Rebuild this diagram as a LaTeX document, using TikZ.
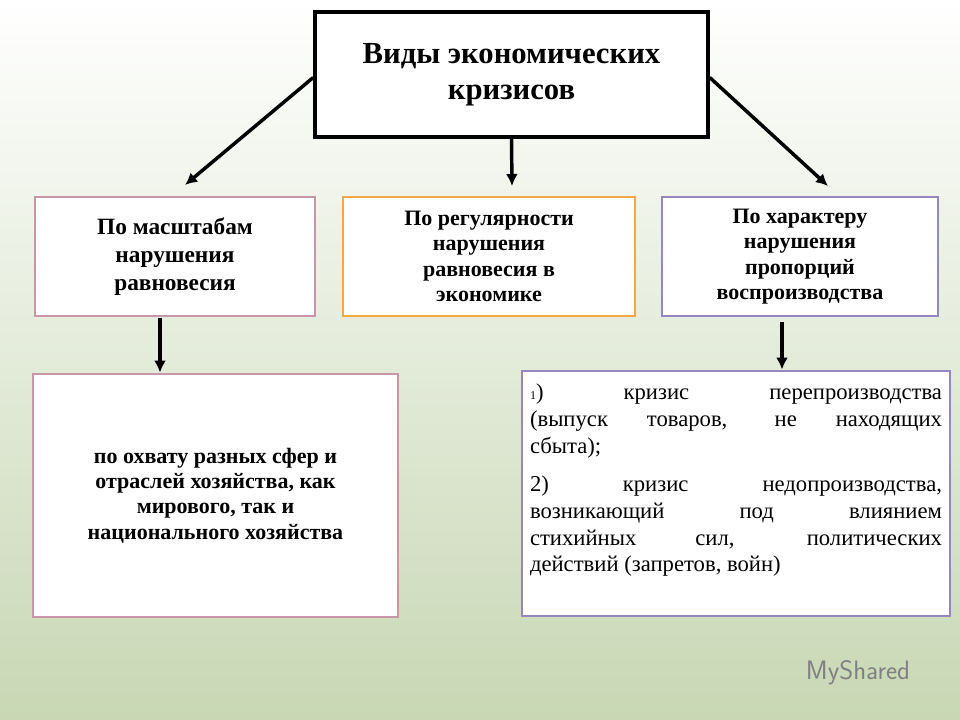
\documentclass[tikz,border=0pt]{standalone}
\usepackage{fontspec}
\setmainfont{Liberation Serif}
\usetikzlibrary{arrows.meta}
\begin{document}
\begin{tikzpicture}[x=0.75pt,y=-0.75pt,
 box/.style={draw,line width=2.2pt,fill=white,align=center,font=\bfseries\fontsize{16.5}{19}\selectfont,inner sep=2pt},
 arr/.style={line width=2.6pt,-{Latex[length=9pt,width=9pt]}}]
\shade[top color=white,bottom color={rgb,255:red,200;green,215;blue,180}] (0,0) rectangle (960,720);
\useasboundingbox (0,0) rectangle (960,720);
\definecolor{pk}{RGB}{200,150,170}\definecolor{og}{RGB}{240,168,72}\definecolor{pu}{RGB}{150,135,190}
\node[box,draw=black,line width=2.6pt,minimum width=393*0.75pt,minimum height=125*0.75pt,font=\bfseries\fontsize{23}{27}\selectfont] (top) at (511.5,74.5) {Виды экономических\\кризисов};
\node[box,draw=pk,minimum width=280*0.75pt,minimum height=119*0.75pt,font=\bfseries\fontsize{17.5}{21}\selectfont] (l) at (175,256.5) {По масштабам\\нарушения\\равновесия};
\node[box,draw=og,minimum width=292*0.75pt,minimum height=119*0.75pt] (m) at (489,256.5) {По регулярности\\нарушения\\равновесия в\\экономике};
\node[box,draw=pu,minimum width=276*0.75pt,minimum height=119*0.75pt] (r) at (800,256.5) {По характеру\\нарушения\\пропорций\\воспроизводства};
\node[box,draw=pk,minimum width=365*0.75pt,minimum height=243*0.75pt] (bl) at (215.5,495.5) {по охвату разных сфер и\\отраслей хозяйства, как\\мирового, так и\\национального хозяйства};
\node[box,draw=pu,minimum width=428*0.75pt,minimum height=245*0.75pt] (br) at (736,493.5) {};
\node[anchor=north,text width=412*0.75pt,align=justify,font=\fontsize{17}{20}\selectfont,inner sep=0pt] (brt) at (736,384) {{\small 1}) кризис перепроизводства\linebreak (выпуск товаров, не находящих\linebreak сбыта);\par\vspace{9pt}2) кризис недопроизводства,\linebreak возникающий под влиянием\linebreak стихийных сил, политических\linebreak действий (запретов, войн)};
\draw[arr] (top.west) ++(0,3) -- (185,185);
\draw[arr] (top.south) -- (512,186);
\draw[arr] (top.east) ++(0,3) -- (828,186);
\draw[arr] (160,318) -- (bl.north -| 160,0);
\draw[arr] (782,322) -- (br.north -| 782,0);
\node[text=gray,font=\sffamily\fontsize{20}{22}\selectfont] (logo) at (858,673) {MyShared};
\end{tikzpicture}
\end{document}
